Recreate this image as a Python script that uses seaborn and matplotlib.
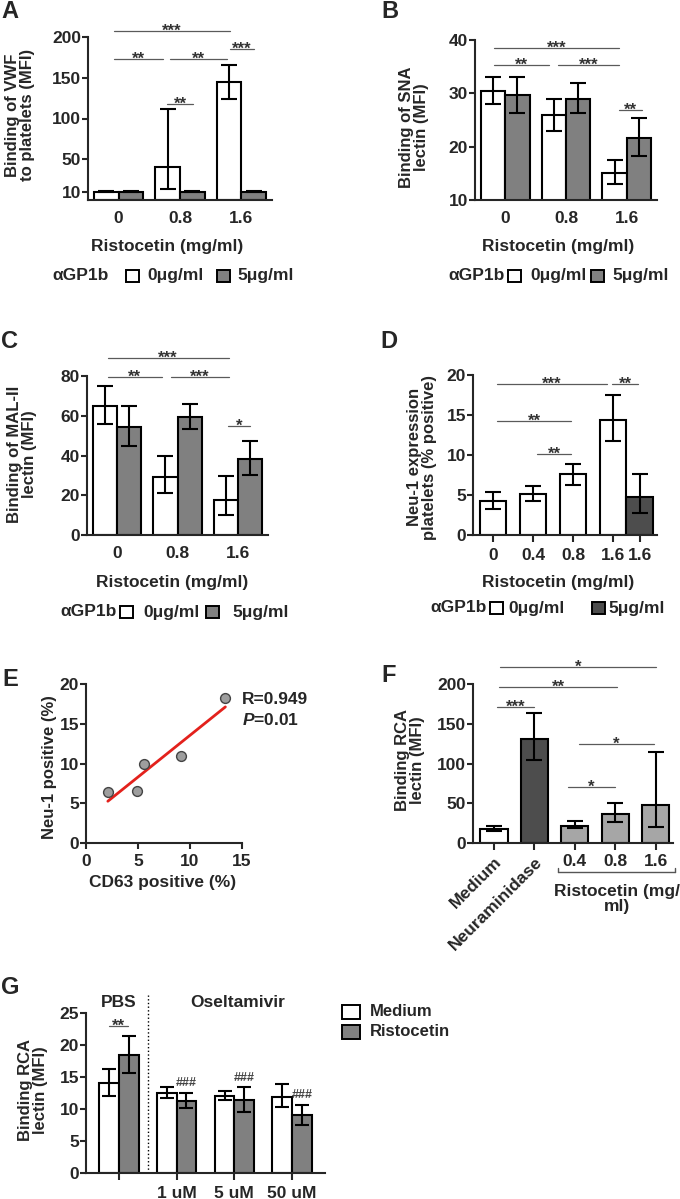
import numpy as np
import pandas as pd
import seaborn as sns
import matplotlib.pyplot as plt
from matplotlib.patches import Rectangle
from matplotlib.lines import Line2D

W, H = 680, 1199

# --- A-C: ristocetin dose x anti-GP1b ---
doses = ["0", "0.8", "1.6"]
agp_levels = ["0μg/ml", "5μg/ml"]

vwf_0 = [10, 40, 145]
vwf_0_lo = [9.3, 13, 124]
vwf_0_hi = [10.7, 112, 166]
vwf_5 = [10, 10, 10]
vwf_5_lo = [9.3, 9.3, 9.3]
vwf_5_hi = [10.7, 10.7, 10.7]

sna_0 = [30.5, 26, 15]
sna_0_lo = [28, 23, 13]
sna_0_hi = [33, 29, 17.5]
sna_5 = [29.6, 29, 21.7]
sna_5_lo = [26.3, 26.3, 18.3]
sna_5_hi = [33, 32, 25.3]

mal_0 = [65, 29, 17.5]
mal_0_lo = [56, 21, 10]
mal_0_hi = [75, 40, 29.5]
mal_5 = [54.5, 59.5, 38]
mal_5_lo = [45, 53.5, 30]
mal_5_hi = [65, 66, 47.5]

# --- D: Neu-1 expression ---
neu_labels = ["0", "0.4", "0.8", "1.6", "1.6"]
neu_ab = ["0μg/ml", "0μg/ml", "0μg/ml", "0μg/ml", "5μg/ml"]
neu = [4.3, 5.1, 7.6, 14.4, 4.7]
neu_lo = [3.3, 4.2, 6.3, 11.7, 2.8]
neu_hi = [5.4, 6.1, 8.9, 17.5, 7.6]

# --- E: correlation ---
cd63 = [2.1, 4.9, 5.6, 9.1, 13.4]
neu1 = [6.4, 6.5, 10.0, 11.0, 18.2]

# --- F: RCA binding ---
rca_labels = ["Medium", "Neuraminidase", "0.4", "0.8", "1.6"]
rca_kind = ["Medium", "Neuraminidase", "Ristocetin", "Ristocetin", "Ristocetin"]
rca = [18, 131, 22, 36, 48]
rca_lo = [15, 105, 19, 26, 20]
rca_hi = [22, 164, 28, 50, 115]

# --- G: oseltamivir ---
osel_groups = ["PBS", "1 uM", "5 uM", "50 uM"]
osel_tick_labels = ["", "1 uM", "5 uM", "50 uM"]
treat_levels = ["Medium", "Ristocetin"]
osel_med = [14.1, 12.5, 12.0, 11.9]
osel_med_lo = [12.0, 11.7, 11.4, 10.3]
osel_med_hi = [16.2, 13.5, 12.8, 13.9]
osel_ris = [18.5, 11.3, 11.4, 9.05]
osel_ris_lo = [15.7, 10.1, 9.5, 7.5]
osel_ris_hi = [21.4, 12.55, 13.4, 10.7]

WHITE, GREY, DARK, LIGHT = "white", "#808080", "#4d4d4d", "#a6a6a6"

sns.set_style("ticks")
plt.rcParams["font.family"] = ["Liberation Sans", "DejaVu Sans"]
plt.rcParams["font.weight"] = "bold"
plt.rcParams["mathtext.fontset"] = "custom"
plt.rcParams["mathtext.it"] = "Liberation Sans:italic:bold"
plt.rcParams["mathtext.rm"] = "Liberation Sans:bold"

FS = 12.5
fig = plt.figure(figsize=(W / 100, H / 100), dpi=100)


def add_ax(left, top, right, bottom):
    return fig.add_axes([left / W, 1 - bottom / H, (right - left) / W, (bottom - top) / H])


def ftext(x, y, s, **kw):
    kw.setdefault("fontsize", FS)
    kw.setdefault("fontweight", "bold")
    fig.text(x / W, 1 - y / H, s, **kw)


def ylab(x, y, s):
    ftext(x, y, s, rotation=90, ha="center", va="center", linespacing=0.95,
          multialignment="center", fontsize=12)


def style(ax, xlen=0, xpad=8):
    sns.despine(ax=ax)
    for s in ("left", "bottom"):
        ax.spines[s].set_linewidth(1.5)
    ax.tick_params(axis="y", length=4, width=1.5, pad=1, labelsize=FS)
    ax.tick_params(axis="x", length=xlen, width=1.5, pad=xpad, labelsize=FS)
    ax.set(xlabel="", ylabel="")


def errbars(ax, xs, v, lo, hi, cap=6):
    v = np.asarray(v, float)
    yerr = [v - np.asarray(lo, float), np.asarray(hi, float) - v]
    ax.errorbar(xs, v, yerr=yerr, fmt="none", ecolor="black", elinewidth=1.5,
                capsize=cap, capthick=1.5, zorder=3)


def sig(ax, x0, x1, y, s, fs=12):
    ax.plot([x0, x1], [y, y], color="#5a5a5a", lw=0.9, clip_on=False)
    ax.annotate(s, ((x0 + x1) / 2, y), xytext=(0, -3.5), textcoords="offset points",
                ha="center", va="baseline", fontsize=fs, color="#333333",
                annotation_clip=False)


def grouped(ax, groups, a, a_lo, a_hi, b, b_lo, b_hi, names, colors, width=0.8, cap=6):
    n = len(groups)
    df = pd.DataFrame({
        "group": list(groups) * 2,
        "value": list(a) + list(b),
        "series": [names[0]] * n + [names[1]] * n,
    })
    sns.barplot(data=df, x="group", y="value", hue="series", hue_order=names,
                palette=dict(zip(names, colors)), width=width, edgecolor="black",
                linewidth=1.5, errorbar=None, legend=False, ax=ax)
    for k, (v, lo, hi) in enumerate([(a, a_lo, a_hi), (b, b_lo, b_hi)]):
        errbars(ax, np.arange(n) + (k - 0.5) * width / 2, v, lo, hi, cap)


def agp_key(y, title_x, items):
    ftext(title_x, y, "αGP1b", ha="left", va="center")
    for bx, tx, color, label in items:
        fig.add_artist(Rectangle((bx / W, 1 - (y + 6) / H), 13 / W, 12 / H,
                                 transform=fig.transFigure, facecolor=color,
                                 edgecolor="black", lw=1.4))
        ftext(tx, y, label, ha="left", va="center")


# ---------------- A ----------------
ax = add_ax(88, 37, 272, 200)
grouped(ax, doses, vwf_0, vwf_0_lo, vwf_0_hi, vwf_5, vwf_5_lo, vwf_5_hi,
        agp_levels, [WHITE, GREY])
ax.set_ylim(0, 200)
ax.set_yticks([10, 50, 100, 150, 200])
ax.set_xlim(-0.5, 2.5)
style(ax)
sig(ax, -0.08, 1.82, 207, "***")
sig(ax, -0.08, 0.73, 173, "**")
sig(ax, 0.84, 1.77, 173, "**")
sig(ax, 1.81, 2.2, 185, "***")
sig(ax, 0.79, 1.21, 118, "**")
ylab(20, 115, "Binding of VWF\nto platelets (MFI)")
ftext(167, 247, "Ristocetin (mg/ml)", ha="center", va="center")
agp_key(276, 52, [(126, 147, WHITE, "0μg/ml"), (217, 237, GREY, "5μg/ml")])
ftext(10, 11, "A", fontsize=17, ha="center", va="center")

# ---------------- B ----------------
ax = add_ax(475, 40, 657, 200)
grouped(ax, doses, sna_0, sna_0_lo, sna_0_hi, sna_5, sna_5_lo, sna_5_hi,
        agp_levels, [WHITE, GREY])
ax.set_ylim(10, 40)
ax.set_yticks([10, 20, 30, 40])
ax.set_xlim(-0.5, 2.5)
style(ax)
sig(ax, -0.18, 1.87, 38.5, "***")
sig(ax, -0.18, 0.72, 35.3, "**")
sig(ax, 0.87, 1.87, 35.3, "***")
sig(ax, 1.87, 2.25, 26.9, "**")
ylab(414, 127, "Binding of SNA\nlectin (MFI)")
ftext(558, 247, "Ristocetin (mg/ml)", ha="center", va="center")
agp_key(276, 448, [(508, 530, WHITE, "0μg/ml"), (591, 612, GREY, "5μg/ml")])
ftext(390, 11, "B", fontsize=17, ha="center", va="center")

# ---------------- C ----------------
ax = add_ax(87, 376, 268, 535)
grouped(ax, doses, mal_0, mal_0_lo, mal_0_hi, mal_5, mal_5_lo, mal_5_hi,
        agp_levels, [WHITE, GREY])
ax.set_ylim(0, 80)
ax.set_yticks([0, 20, 40, 60, 80])
ax.set_xlim(-0.5, 2.5)
style(ax)
sig(ax, -0.16, 1.85, 89, "***")
sig(ax, -0.16, 0.74, 79.5, "**")
sig(ax, 0.89, 1.85, 79.5, "***")
sig(ax, 1.84, 2.2, 55, "*")
ylab(22, 454, "Binding of MAL-II\nlectin (MFI)")
ftext(172, 582, "Ristocetin (mg/ml)", ha="center", va="center")
agp_key(612, 60, [(120, 143, WHITE, "0μg/ml"), (206, 232, GREY, "5μg/ml")])
ftext(10, 341, "C", fontsize=17, ha="center", va="center")

# ---------------- D ----------------
ax = add_ax(473, 375, 657, 535)
pos = [0, 1, 2, 3, 3 + 2 / 3]
sns.barplot(x=pos, y=neu, hue=neu_ab, palette={"0μg/ml": WHITE, "5μg/ml": DARK},
            native_scale=True, dodge=False, width=1.0, edgecolor="black",
            linewidth=1.5, errorbar=None, legend=False, ax=ax)
errbars(ax, pos, neu, neu_lo, neu_hi, 6)
ax.set_ylim(0, 20)
ax.set_yticks([0, 5, 10, 15, 20])
ax.set_xticks(pos, neu_labels)
ax.set_xlim(-0.5, 4.1)
style(ax, xlen=5, xpad=4)
sig(ax, 0.1, 2.85, 18.9, "***")
sig(ax, 2.98, 3.63, 18.9, "**")
sig(ax, 0.1, 1.95, 14.25, "**")
sig(ax, 1.1, 1.95, 10.1, "**")
ylab(422, 457, "Neu-1 expression\nplatelets (% positive)")
ftext(558, 583, "Ristocetin (mg/ml)", ha="center", va="center")
agp_key(608, 430, [(490, 508, WHITE, "0μg/ml"), (592, 608, DARK, "5μg/ml")])
ftext(389, 341, "D", fontsize=17, ha="center", va="center")

# ---------------- E ----------------
ax = add_ax(86, 684, 242, 843)
sns.regplot(x=cd63, y=neu1, ci=None, ax=ax, color="#9e9e9e",
            scatter_kws=dict(s=50, edgecolor="#444444", linewidths=1, alpha=1, zorder=3),
            line_kws=dict(color="#e3211c", lw=2))
ax.set_xlim(0, 15)
ax.set_ylim(0, 20)
ax.set_xticks([0, 5, 10, 15])
ax.set_yticks([0, 5, 10, 15, 20])
style(ax, xlen=4, xpad=4)
ftext(242, 700, "R=0.949", ha="left", va="center")
ftext(242, 720, "$P$=0.01", ha="left", va="center")
ylab(50, 767, "Neu-1 positive (%)")
ftext(163, 882, "CD63 positive (%)", ha="center", va="center")
ftext(10, 679, "E", fontsize=17, ha="center", va="center")

# ---------------- F ----------------
ax = add_ax(473, 684, 673, 843)
sns.barplot(x=rca_labels, y=rca, hue=rca_kind,
            palette={"Medium": WHITE, "Neuraminidase": DARK, "Ristocetin": LIGHT},
            dodge=False, width=0.67, edgecolor="black", linewidth=1.5,
            errorbar=None, legend=False, ax=ax)
errbars(ax, np.arange(len(rca)), rca, rca_lo, rca_hi, 6)
ax.set_ylim(0, 200)
ax.set_yticks([0, 50, 100, 150, 200])
ax.set_xlim(-0.52, 4.43)
style(ax, xlen=5, xpad=3)
for lab in ax.get_xticklabels()[:2]:
    lab.set_rotation(45)
    lab.set_ha("right")
    lab.set_rotation_mode("anchor")
sig(ax, 0.15, 4.0, 222, "*")
sig(ax, 0.12, 3.05, 196, "**")
sig(ax, 0.07, 1.0, 171, "***")
sig(ax, 2.1, 3.95, 125, "*")
sig(ax, 1.83, 3.0, 70, "*")
for xs, ys in [([558, 675], [872, 872]), ([558, 558], [872, 868]), ([675, 675], [872, 868])]:
    fig.add_artist(Line2D([x / W for x in xs], [1 - y / H for y in ys],
                          transform=fig.transFigure, color="#555555", lw=1))
ftext(617, 899, "Ristocetin (mg/\nml)", ha="center", va="center", linespacing=0.95)
ylab(410, 760, "Binding RCA\nlectin (MFI)")
ftext(389, 675, "F", fontsize=17, ha="center", va="center")

# ---------------- G ----------------
ax = add_ax(86, 1013, 325, 1173)
grouped(ax, osel_groups, osel_med, osel_med_lo, osel_med_hi, osel_ris, osel_ris_lo,
        osel_ris_hi, treat_levels, [WHITE, GREY], width=0.68, cap=5)
ax.set_ylim(0, 25)
ax.set_yticks([0, 5, 10, 15, 20, 25])
ax.set_xlim(-0.57, 3.57)
ax.set_xticks(range(len(osel_groups)), osel_tick_labels)
style(ax, xlen=5, xpad=4)
ax.plot([0.5, 0.5], [0, 27.8], ls=":", color="black", lw=1, clip_on=False)
sig(ax, -0.17, 0.16, 23.0, "**")
for i in range(1, len(osel_groups)):
    ax.annotate("###", (i + 0.17, osel_ris_hi[i]), xytext=(0, 7), textcoords="offset points",
                ha="center", va="center", fontsize=9, color="#444444")
ax.text(0, 26.7, "PBS", ha="center", va="center", fontsize=FS, clip_on=False)
ax.text(2.05, 26.7, "Oseltamivir", ha="center", va="center", fontsize=FS, clip_on=False)
ylab(33, 1090, "Binding RCA\nlectin (MFI)")
ftext(10, 988, "G", fontsize=17, ha="center", va="center")
for by, color, label in [(1005, WHITE, "Medium"), (1025, GREY, "Ristocetin")]:
    fig.add_artist(Rectangle((342 / W, 1 - (by + 14) / H), 18 / W, 14 / H,
                             transform=fig.transFigure, facecolor=color,
                             edgecolor="black", lw=1.4))
    ftext(370, by + 7, label, ha="left", va="center", fontsize=12)

fig.savefig("out.png", dpi=100)
